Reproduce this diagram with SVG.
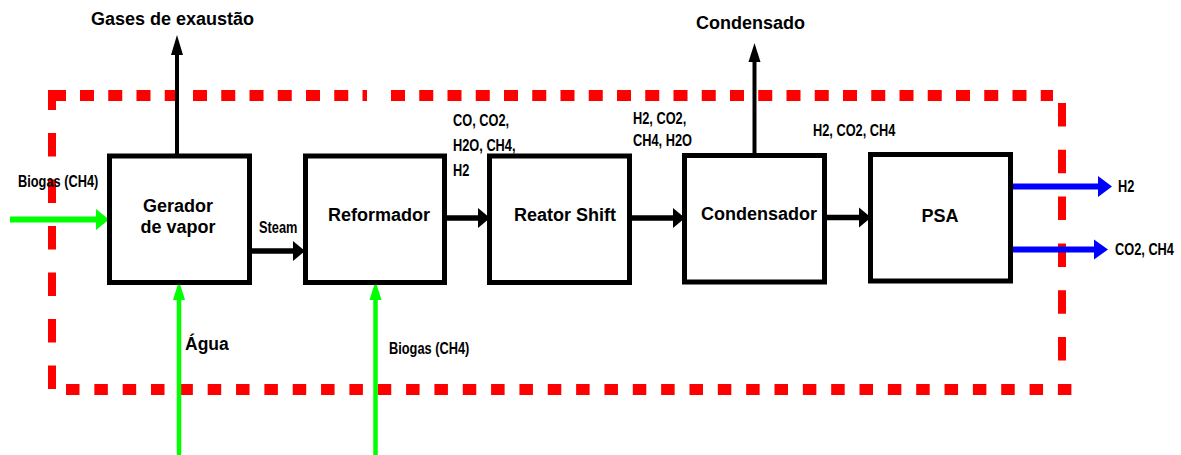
<svg xmlns="http://www.w3.org/2000/svg" width="1181" height="455" viewBox="0 0 1181 455">
<style>
.box{fill:#fff;stroke:#000;stroke-width:5}
.t{font-family:"Liberation Sans",Arial,sans-serif;font-weight:bold;font-size:18px;fill:#000;text-anchor:middle}
.s{font-family:"Liberation Sans",Arial,sans-serif;font-weight:bold;font-size:16px;fill:#000}
.a{font-family:"Liberation Sans",Arial,sans-serif;font-weight:bold;font-size:17.5px;fill:#000}
.bh{stroke:#ff0000;stroke-width:11;fill:none}
.bv{stroke:#ff0000;stroke-width:8;fill:none}
.k{stroke:#000;fill:none}
.g{stroke:#00ff00;fill:none}
.b{stroke:#0000ff;stroke-width:6;fill:none}
</style>
<rect width="1181" height="455" fill="#fff"/>
<g id="boundary">
<path class="bh" d="M51.75 95.5H367" stroke-dasharray="14 14.25"/>
<path class="bh" d="M391 95.5H1053" stroke-dasharray="14 14.25"/>
<path class="bh" d="M48 95.5H66"/>
<path class="bv" d="M52 90V389" stroke-dasharray="20 23 23.5 23 23.5 23 23.5 23 23.5 23 23.5 23 23.5 23"/>
<path class="bv" d="M1062 103V361" stroke-dasharray="23.5 23.3"/>
<path class="bh" d="M66 389.5H1072" stroke-dasharray="13.5 14.84"/>
</g>
<g id="connectors">
<path class="k" stroke-width="4" d="M177 154V53"/>
<polygon points="177,35 171,55 183,55" fill="#000"/>
<path class="k" stroke-width="4" d="M754.5 153V60"/>
<polygon points="754.5,43 748.5,62 760.5,62" fill="#000"/>
<path class="g" stroke-width="6" d="M10 219.5H98"/>
<polygon points="109,219.5 96,209 96,230" fill="#00ff00"/>
<path class="k" stroke-width="5.5" d="M252 251H294"/>
<polygon points="305,251 293,241 293,261" fill="#000"/>
<path class="k" stroke-width="5.5" d="M447 218H479"/>
<polygon points="490,218 478,208 478,228" fill="#000"/>
<path class="k" stroke-width="5.5" d="M632 218H674"/>
<polygon points="685,218 673,208 673,228" fill="#000"/>
<path class="k" stroke-width="5.5" d="M827 217.5H861"/>
<polygon points="871,217.5 859,207.5 859,227.5" fill="#000"/>
<path class="b" d="M1013 186.5H1100"/>
<polygon points="1112,186.5 1098,176 1098,197" fill="#0000ff"/>
<path class="b" d="M1013 249.5H1096"/>
<polygon points="1108,249.5 1094,239.5 1094,259.5" fill="#0000ff"/>
<path class="g" stroke-width="4.5" d="M179 455V298"/>
<polygon points="179,281 173,300 185,300" fill="#00ff00"/>
<path class="g" stroke-width="4.5" d="M375.5 455V298"/>
<polygon points="375.5,281 369.5,300 381.5,300" fill="#00ff00"/>
</g>
<g id="gerador">
<rect class="box" x="109.5" y="156" width="140" height="126.5"/>
<text class="t" x="178" y="212">Gerador</text>
<text class="t" x="178" y="233">de vapor</text>
</g>
<g id="reformador">
<rect class="box" x="305.5" y="156" width="139" height="126.5"/>
<text class="t" x="379" y="221">Reformador</text>
</g>
<g id="reator-shift">
<rect class="box" x="489.5" y="156" width="140" height="126.5"/>
<text class="t" x="565" y="221">Reator Shift</text>
</g>
<g id="condensador">
<rect class="box" x="684.5" y="155.5" width="140" height="126.5"/>
<text class="t" x="759" y="220">Condensador</text>
</g>
<g id="psa">
<rect class="box" x="870.5" y="154.5" width="140" height="126.5"/>
<text class="t" x="940" y="222">PSA</text>
</g>
<g id="labels">
<text class="t" x="172.5" y="25">Gases de exaustão</text>
<text class="t" x="750.5" y="29">Condensado</text>
<text class="s" transform="matrix(0.8 0 0 1 18 187)">Biogas (CH4)</text>
<text class="s" transform="matrix(0.8 0 0 1 259 233)">Steam</text>
<text class="s" transform="matrix(0.8 0 0 1 453 126)">CO, CO2,</text>
<text class="s" transform="matrix(0.8 0 0 1 453 151)">H2O, CH4,</text>
<text class="s" transform="matrix(0.8 0 0 1 453 176)">H2</text>
<text class="s" transform="matrix(0.8 0 0 1 633 124)">H2, CO2,</text>
<text class="s" transform="matrix(0.8 0 0 1 633 146)">CH4, H2O</text>
<text class="s" transform="matrix(0.8 0 0 1 813 136)">H2, CO2, CH4</text>
<text class="s" transform="matrix(0.8 0 0 1 1118 192)">H2</text>
<text class="s" transform="matrix(0.8 0 0 1 1115 255)">CO2, CH4</text>
<text class="s" transform="matrix(0.8 0 0 1 389 354)">Biogas (CH4)</text>
<text class="a" x="185" y="350">Água</text>
</g>
</svg>
